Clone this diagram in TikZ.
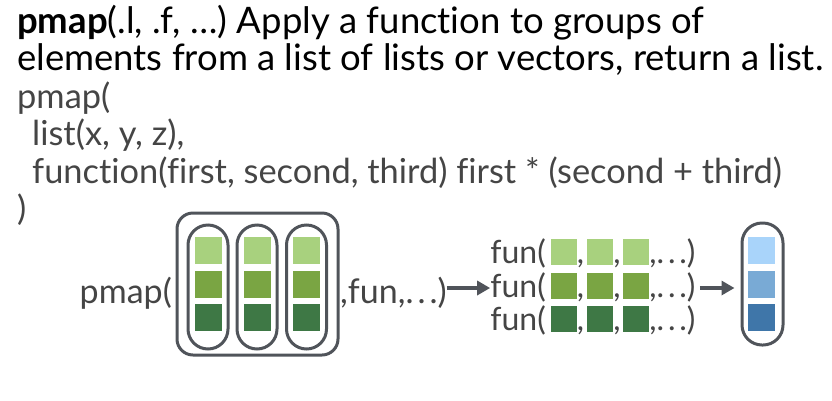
\documentclass[tikz,border=0pt]{standalone}
\usepackage{fontspec}
\setmainfont{Lato}[Ligatures=NoCommon]
\usetikzlibrary{arrows.meta}
\definecolor{grnA}{HTML}{A8D17E}
\definecolor{grnB}{HTML}{7AA543}
\definecolor{grnC}{HTML}{3E7845}
\definecolor{bluA}{HTML}{A9D4FA}
\definecolor{bluB}{HTML}{79AAD5}
\definecolor{bluC}{HTML}{3F76A9}
\definecolor{edge}{HTML}{50545A}
\definecolor{code}{HTML}{454545}
\newcommand{\spdots}{.\hspace{0.12em}.\hspace{0.12em}.}

\begin{document}
\begin{tikzpicture}[x=1pt,y=-1pt,>={Triangle[length=13pt,width=14pt]},
  line/.style={inner sep=0pt, anchor=base west, font=\fontsize{36.5}{40}\selectfont},
  codeline/.style={line, text=code, font=\fontsize{34.4}{40}\selectfont},
  rowtxt/.style={inner sep=0pt, font=\fontsize{32}{34}\selectfont, text=code},
  sq/.style={inner sep=0pt, minimum size=27pt},
  pill/.style={draw=edge, line width=3pt, rounded corners=20pt, minimum width=40pt, minimum height=124pt}]
\useasboundingbox (0,0) rectangle (832,400);
% heading and code
\node[line] (head1) at (17,33) {\textbf{pmap}(.l, .f, …) Apply a function to groups of};
\node[line] (head2) at (17,70) {elements from a list of lists or vectors, return a list.};
\node[codeline] (code1) at (17,108) {pmap(};
\node[codeline] (code2) at (32,145) {list(x, y, z),};
\node[codeline] (code3) at (32,183) {function(first, second, third) first * (second + third)};
\node[codeline] (code4) at (17,220) {)};
% input list
\node[codeline, font=\fontsize{34}{40}\selectfont, anchor=base east] (call) at (172,303) {pmap(};
\node[draw=edge, line width=3pt, rounded corners=16pt, minimum width=161pt, minimum height=142pt] (lst) at (257.5,284) {};
\node[pill] (x) at (208,287) {};
\node[pill] (y) at (257,287) {};
\node[pill] (z) at (306.5,287) {};
\foreach \c/\cx in {1/208.5,2/257,3/306}{
  \node[sq, fill=grnA] (g\c a) at (\cx,250) {};
  \node[sq, fill=grnB] (g\c b) at (\cx,284) {};
  \node[sq, fill=grnC] (g\c c) at (\cx,317.5) {};
}
\node[codeline, font=\fontsize{34}{40}\selectfont] (args) at (340,303) {,fun,\spdots)};
% calls
\coordinate (mid) at (0,288);
\foreach \r/\ry/\col in {1/263/grnA,2/297/grnB,3/330/grnC}{
  \node[rowtxt, anchor=base east] (fun\r) at (546,\ry) {fun(};
  \foreach \c/\cx in {1/563.5,2/600,3/636}{
    \node[sq, fill=\col, minimum size=26pt] (h\r\c) at (\cx,\ry-11) {};
  }
  \node[rowtxt, anchor=base west] (k\r1) at (h\r1.east |- 0,\ry) {,};
  \node[rowtxt, anchor=base west] (k\r2) at (h\r2.east |- 0,\ry) {,};
  \node[rowtxt, anchor=base west] (close\r) at (h\r3.east |- 0,\ry) {,\spdots)};
}
% result
\node[pill, minimum width=41pt, minimum height=122pt] (res) at (762.5,284) {};
\node[sq, fill=bluA] (ra) at (761.5,250) {};
\node[sq, fill=bluB] (rb) at (761.5,284) {};
\node[sq, fill=bluC] (rc) at (761.5,317.5) {};
% arrows
\draw[->, edge, line width=3.5pt] (args.east |- mid) -- (fun2.west |- mid);
\draw[->, edge, line width=3.5pt, shorten <=4pt, shorten >=6pt] (close2.east |- mid) -- (res.west |- mid);
\end{tikzpicture}
\end{document}
